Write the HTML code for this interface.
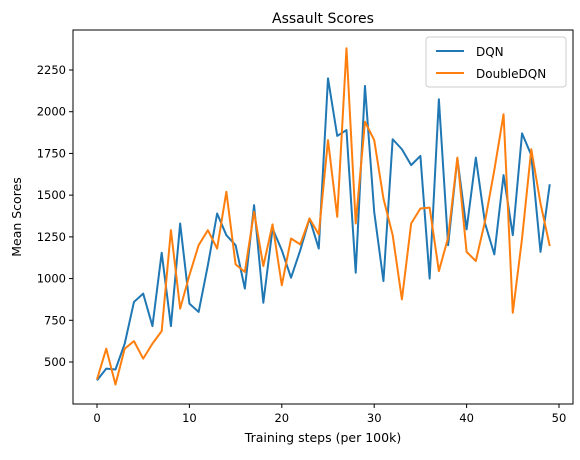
<!DOCTYPE html>
<html><head><meta charset="utf-8"><style>
body{margin:0;background:#fff;font-family:"Liberation Sans","DejaVu Sans",sans-serif}
</style></head><body>
<svg id="chart" width="580" height="455" xmlns="http://www.w3.org/2000/svg" font-family="DejaVu Sans, Liberation Sans, sans-serif">
<rect width="580" height="455" fill="#fff"/>
<text x="323" y="23" text-anchor="middle" font-size="14">Assault Scores</text>
<text x="323" y="442" text-anchor="middle" font-size="12.5">Training steps (per 100k)</text>
<text transform="translate(21,217) rotate(-90)" text-anchor="middle" font-size="12.5">Mean Scores</text>
<g id="axes"></g>
<g id="series"></g>
<rect x="73" y="30" width="500" height="374" fill="none" stroke="#000" stroke-width="1"/>
<g>
<rect x="426" y="37" width="140" height="50" rx="3" fill="#fff" stroke="#ccc"/>
<line x1="436" y1="51" x2="464" y2="51" stroke="#1f77b4" stroke-width="2"/>
<text x="476" y="56" font-size="12">DQN</text>
<line x1="436" y1="73" x2="464" y2="73" stroke="#ff7f0e" stroke-width="2"/>
<text x="476" y="78" font-size="12">DoubleDQN</text>
</g>
</svg>
<script>
const dqn=[390,460,455,610,860,910,715,1155,715,1330,850,800,1080,1390,1260,1200,940,1440,855,1300,1170,1005,1170,1360,1180,2200,1855,1890,1035,2155,1400,985,1835,1775,1680,1735,1000,2075,1200,1720,1295,1725,1330,1145,1620,1260,1870,1740,1160,1565];
const doubleDqn=[395,580,365,580,625,520,610,685,1290,820,1020,1200,1290,1180,1520,1085,1040,1400,1075,1325,960,1240,1205,1360,1265,1830,1370,2380,1330,1940,1830,1480,1260,875,1330,1420,1425,1045,1245,1725,1160,1105,1345,1650,1985,795,1240,1775,1450,1195];
const xTicks=[0,10,20,30,40,50];
const yTicks=[500,750,1000,1250,1500,1750,2000,2250];
const NS='http://www.w3.org/2000/svg';
function xs(v){return 97+v*(559-97)/50;}
function ys(v){return 362-(v-500)*(362-70)/1750;}
const axes=document.getElementById('axes');
function mk(tag,attrs,parent){const e=document.createElementNS(NS,tag);for(const k in attrs)e.setAttribute(k,attrs[k]);parent.appendChild(e);return e;}
xTicks.forEach(t=>{
  const l=mk('line',{x1:xs(t),x2:xs(t),y1:404,y2:408,stroke:'#000'},axes);
  
  
  const tx=mk('text',{x:xs(t),y:422,'text-anchor':'middle','font-size':11.5},axes);
  tx.textContent=t;
  
  
});
yTicks.forEach(t=>{
  const l=mk('line',{x1:69,x2:73,y1:ys(t),y2:ys(t),stroke:'#000'},axes);
  
  
  const tx=mk('text',{x:66,y:ys(t)+4,'text-anchor':'end','font-size':11.5},axes);
  tx.textContent=t;
  
  
});
const sg=document.getElementById('series');
function line(data,color,name){
  const p=mk('polyline',{points:data.map((v,i)=>xs(i)+','+ys(v)).join(' '),fill:'none',stroke:color,'stroke-width':2,'stroke-linejoin':'round'},sg);
  
  
}
line(dqn,'#1f77b4','dqn-line');
line(doubleDqn,'#ff7f0e','doubledqn-line');
</script>
</body></html>
